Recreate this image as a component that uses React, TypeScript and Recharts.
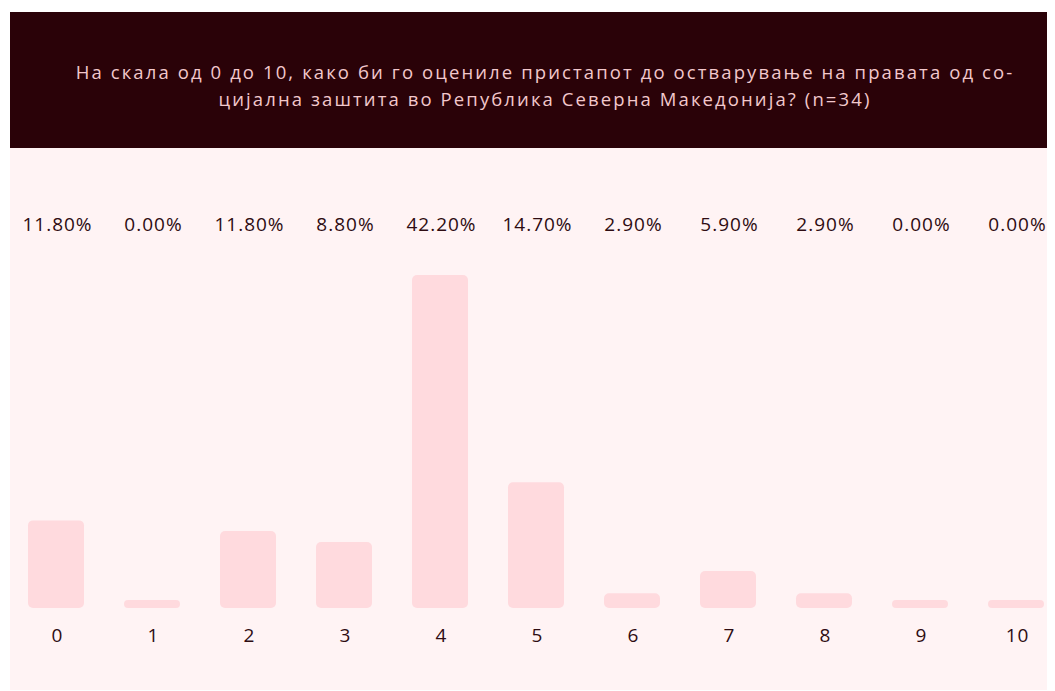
import React from "react";
import { BarChart, Bar, XAxis, YAxis } from "recharts";

// scale points 0..10
const categories = ["0", "1", "2", "3", "4", "5", "6", "7", "8", "9", "10"];
// bar heights as drawn (percent units)
const barValues = [11.1, 0, 9.76, 8.36, 42.2, 15.93, 1.86, 4.69, 1.86, 0, 0];
// percentage labels printed above the plot
const percentLabels = [
  "11.80%", "0.00%", "11.80%", "8.80%", "42.20%", "14.70%",
  "2.90%", "5.90%", "2.90%", "0.00%", "0.00%",
];

const titleLines = [
  "На скала од 0 до 10, како би го оцениле пристапот до остварување на правата од со-",
  "цијална заштита во Република Северна Македонија? (n=34)",
];

const FONT = "'Open Sans', 'Noto Sans', sans-serif";
const TEXT_DARK = "#2e0c12";

const data = categories.map((c, i) => ({
  name: c,
  value: barValues[i],
  label: percentLabels[i],
}));

const CenterTick = (props: any) => {
  const { x, y, payload, format } = props;
  return (
    <text
      x={x + 1.5}
      y={y}
      textAnchor="middle"
      dominantBaseline="central"
      fill={TEXT_DARK}
      fontSize={19}
      fontFamily={FONT}
      letterSpacing={1}
    >
      {format ? format(payload.index) : payload.value}
    </text>
  );
};

export default function App() {
  return (
    <div
      style={{
        marginLeft: 2,
        marginTop: 4,
        width: 1045,
        overflow: "hidden",
        fontFamily: FONT,
      }}
    >
      <div
        style={{
          width: 1070,
          height: 136,
          background: "#2a0208",
          color: "#f2c8cc",
          fontSize: 18.5,
          lineHeight: "27px",
          textAlign: "center",
          boxSizing: "border-box",
          paddingTop: 46,
          letterSpacing: 2.1,
        }}
      >
        {titleLines.map((l) => (
          <div key={l} style={{ whiteSpace: "nowrap" }}>{l}</div>
        ))}
      </div>
      <div style={{ width: 1070, height: 542, background: "#fff3f4" }}>
        <div style={{ marginLeft: -2 }}>
          <BarChart
            width={1056}
            height={542}
            data={data}
            margin={{ top: 20, right: 0, bottom: 32, left: 0 }}
          >
            <XAxis
              dataKey="name"
              xAxisId="bottom"
              orientation="bottom"
              height={50}
              axisLine={false}
              tickLine={false}
              tickSize={0}
              tickMargin={27}
              interval={0}
              tick={<CenterTick />}
            />
            <XAxis
              dataKey="name"
              xAxisId="top"
              orientation="top"
              height={107}
              axisLine={false}
              tickLine={false}
              tickSize={0}
              tickMargin={51}
              interval={0}
              tick={<CenterTick format={(i: number) => percentLabels[i]} />}
            />
            <YAxis hide domain={[0, 42.2]} />
            <Bar
              dataKey="value"
              xAxisId="bottom"
              fill="#ffdade"
              barSize={56}
              radius={5}
              minPointSize={8}
              isAnimationActive={false}
            />
          </BarChart>
        </div>
      </div>
    </div>
  );
}
